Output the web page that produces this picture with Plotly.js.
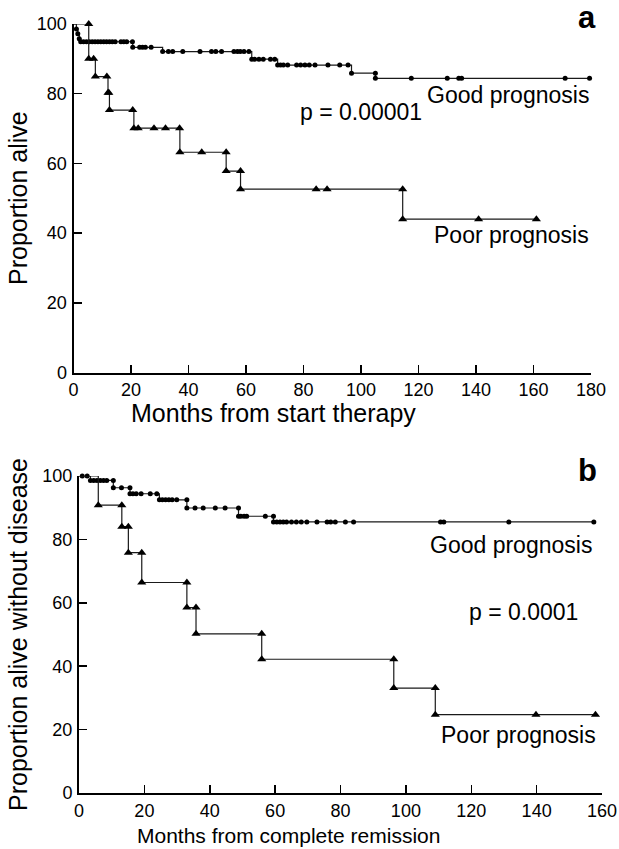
<!DOCTYPE html>
<html>
<head>
<meta charset="utf-8">
<script src="https://cdn.plot.ly/plotly-3.0.1.min.js"></script>
<style>html,body{margin:0;padding:0;background:#fff;}#chart{width:619px;height:849px;}</style>
</head>
<body>
<div id="chart"></div>
<script>
// ---- Panel a: survival from start of therapy ----
var aGoodMonths = [1,1.5,2,2.5,3.5,4.5,5.5,6.5,7.5,8.5,9.5,10.5,11.5,12.5,13.5,14.5,16.5,17.5,18.5,20.5,
  20.6,23,24,25,27,31,33,34.5,38,44,48,49.5,51.5,55.8,57,58,59.3,61,
  62,63,64.5,66,68.5,70,71,72,73,74.5,77.6,79,80.5,82,84,88.5,92.6,95.5,
  96.7,105,105,117.5,130,134,135,171,179.5];
var aGoodSurv = [98.6,97.2,95.8,94.9,94.9,94.9,94.9,94.9,94.9,94.9,94.9,94.9,94.9,94.9,94.9,94.9,94.9,94.9,94.9,94.9,
  93.3,93.3,93.3,93.3,93.3,92.1,92.1,92.1,92.1,92.1,92.1,92.1,92.1,92.1,92.1,92.1,92.1,92.1,
  89.9,89.9,89.9,89.9,89.9,89.9,88.2,88.2,88.2,88.2,88.2,88.2,88.2,88.2,88.2,88.2,88.2,88.2,
  85.9,85.9,84.4,84.4,84.4,84.4,84.4,84.4,84.4];
var aPoorMonths = [5.3,5.3,7,7.6,11.6,12,12.3,12.5,20.6,21,22.5,28,32,36.9,37,44.6,53.1,53.1,58.1,58.1,84.4,88.2,114.5,114.5,140.9,161];
var aPoorSurv = [100,90,90,84.9,84.9,80.3,80.3,75.3,75.3,70.1,70.1,70.1,70.1,70.1,63.2,63.2,63.2,57.8,57.8,52.6,52.6,52.6,52.6,44,44,44];

// ---- Panel b: disease-free survival from complete remission ----
var bGoodMonths = [1,2.5,3.5,4.5,5.5,6.5,7.5,8.5,10.5,10.5,13,15.6,15.6,16.5,17.5,19,21.8,23.8,
  24.6,25.5,26.5,27.5,28.5,29.9,33,33,35.5,38,41.7,44.7,48.8,48.8,49.5,50.5,51.3,57,59.5,
  59.5,60.5,61.5,62.5,63.5,65,66.5,68,69.7,72.8,75.9,77,78.4,81.5,84,110.6,111.6,131.5,157.5];
var bGoodSurv = [100,100,98.6,98.6,98.6,98.6,98.6,98.6,98.6,96.3,96.3,96.3,94.4,94.4,94.4,94.4,94.4,94.4,
  92.5,92.5,92.5,92.5,92.5,92.5,92.5,89.9,89.9,89.9,89.9,89.9,89.9,87.3,87.3,87.3,87.3,87.3,87.3,
  85.5,85.5,85.5,85.5,85.5,85.5,85.5,85.5,85.5,85.5,85.5,85.5,85.5,85.5,85.5,85.5,85.5,85.5,85.5];
var bPoorMonths = [5.9,13.1,13.1,15.1,15.1,19.2,19.2,33,33,35.8,35.8,55.9,55.9,96.3,96.3,109,109,139.8,158];
var bPoorSurv = [90.8,90.8,84,84,75.8,75.8,66.4,66.4,58.5,58.5,50.2,50.2,42.2,42.2,33.1,33.1,24.7,24.7,24.7];

var xTicksA = [0,20,40,60,80,100,120,140,160,180];
var xTicksB = [0,20,40,60,80,100,120,140,160];
var yTicks = [0,20,40,60,80,100];

var W = 619, H = 849;
function px(x){ return x / W; }
function py(y){ return 1 - y / H; }

var FONT = 'Liberation Sans, Arial, Helvetica, sans-serif';
var LINE = {color:'#1a1a1a', width:1.2, shape:'hv'};

function stepTrace(t, s, xa, ya){
  return {x:[0].concat(t), y:[100].concat(s), xaxis:xa, yaxis:ya, mode:'lines',
    line:LINE, hoverinfo:'skip', cliponaxis:false, showlegend:false};
}
function markTrace(t, s, xa, ya, sym, size){
  return {x:t, y:s, xaxis:xa, yaxis:ya, mode:'markers',
    marker:{symbol:sym, size:size, color:'#000'}, cliponaxis:false, showlegend:false};
}

var data = [
  stepTrace(aGoodMonths, aGoodSurv, 'x', 'y'),
  markTrace(aGoodMonths, aGoodSurv, 'x', 'y', 'circle', 5),
  stepTrace(aPoorMonths, aPoorSurv, 'x', 'y'),
  markTrace(aPoorMonths, aPoorSurv, 'x', 'y', 'triangle-up', 8),
  stepTrace(bGoodMonths, bGoodSurv, 'x2', 'y2'),
  markTrace(bGoodMonths, bGoodSurv, 'x2', 'y2', 'circle', 5),
  stepTrace(bPoorMonths, bPoorSurv, 'x2', 'y2'),
  markTrace(bPoorMonths, bPoorSurv, 'x2', 'y2', 'triangle-up', 8)
];

function xax(domain, range, ticks, anchor){
  return {domain:domain, range:range, anchor:anchor, tickmode:'array', tickvals:ticks,
    ticks:'inside', ticklen:8, tickwidth:1.5, tickcolor:'#000',
    showline:true, linecolor:'#000', linewidth:2, showgrid:false, zeroline:false,
    tickfont:{family:FONT, size:18, color:'#000'}, fixedrange:true};
}
function yax(domain, anchor){
  return {domain:domain, range:[0,100], anchor:anchor, tickmode:'array', tickvals:yTicks,
    ticks:'inside', ticklen:8, tickwidth:1.5, tickcolor:'#000',
    showline:true, linecolor:'#000', linewidth:2, showgrid:false, zeroline:false,
    tickfont:{family:FONT, size:18, color:'#000'}, ticklabelstandoff:1, fixedrange:true};
}

function txt(text, x, y, xanchor, size, extra){
  var a = {text:text, xref:'paper', yref:'paper', x:px(x), y:py(y), xanchor:xanchor, yanchor:'middle',
    showarrow:false, font:{family:FONT, size:size, color:'#000'}};
  if (extra) for (var k in extra) a[k] = extra[k];
  return a;
}

var layout = {
  width:W, height:H, margin:{l:0,r:0,t:0,b:0}, paper_bgcolor:'#fff', plot_bgcolor:'#fff',
  showlegend:false,
  xaxis: xax([px(73.5), px(591)], [0,180], xTicksA, 'y'),
  yaxis: yax([py(372.5), py(24)], 'x'),
  xaxis2: xax([px(79), px(602)], [0,160], xTicksB, 'y2'),
  yaxis2: yax([py(793), py(476)], 'x2'),
  annotations: [
    txt('<b>a</b>', 587, 17, 'center', 31),
    txt('<b>b</b>', 587, 471, 'center', 31),
    txt('Good prognosis', 591, 95, 'right', 23),
    txt('p = 0.00001', 298, 112, 'left', 23),
    txt('Poor prognosis', 591, 235, 'right', 23),
    txt('Good prognosis', 594, 545, 'right', 23),
    txt('p = 0.0001', 467, 612, 'left', 23),
    txt('Poor prognosis', 598, 735, 'right', 23),
    txt('Months from start therapy', 273, 413, 'center', 25),
    txt('Months from complete remission', 288, 835, 'center', 21, {borderpad:0}),
    txt('Proportion alive', 18, 198, 'center', 25, {textangle:-90}),
    txt('Proportion alive without disease', 18, 635, 'center', 25, {textangle:-90})
  ]
};

Plotly.newPlot('chart', data, layout, {staticPlot:true, displayModeBar:false});
</script>
</body>
</html>
